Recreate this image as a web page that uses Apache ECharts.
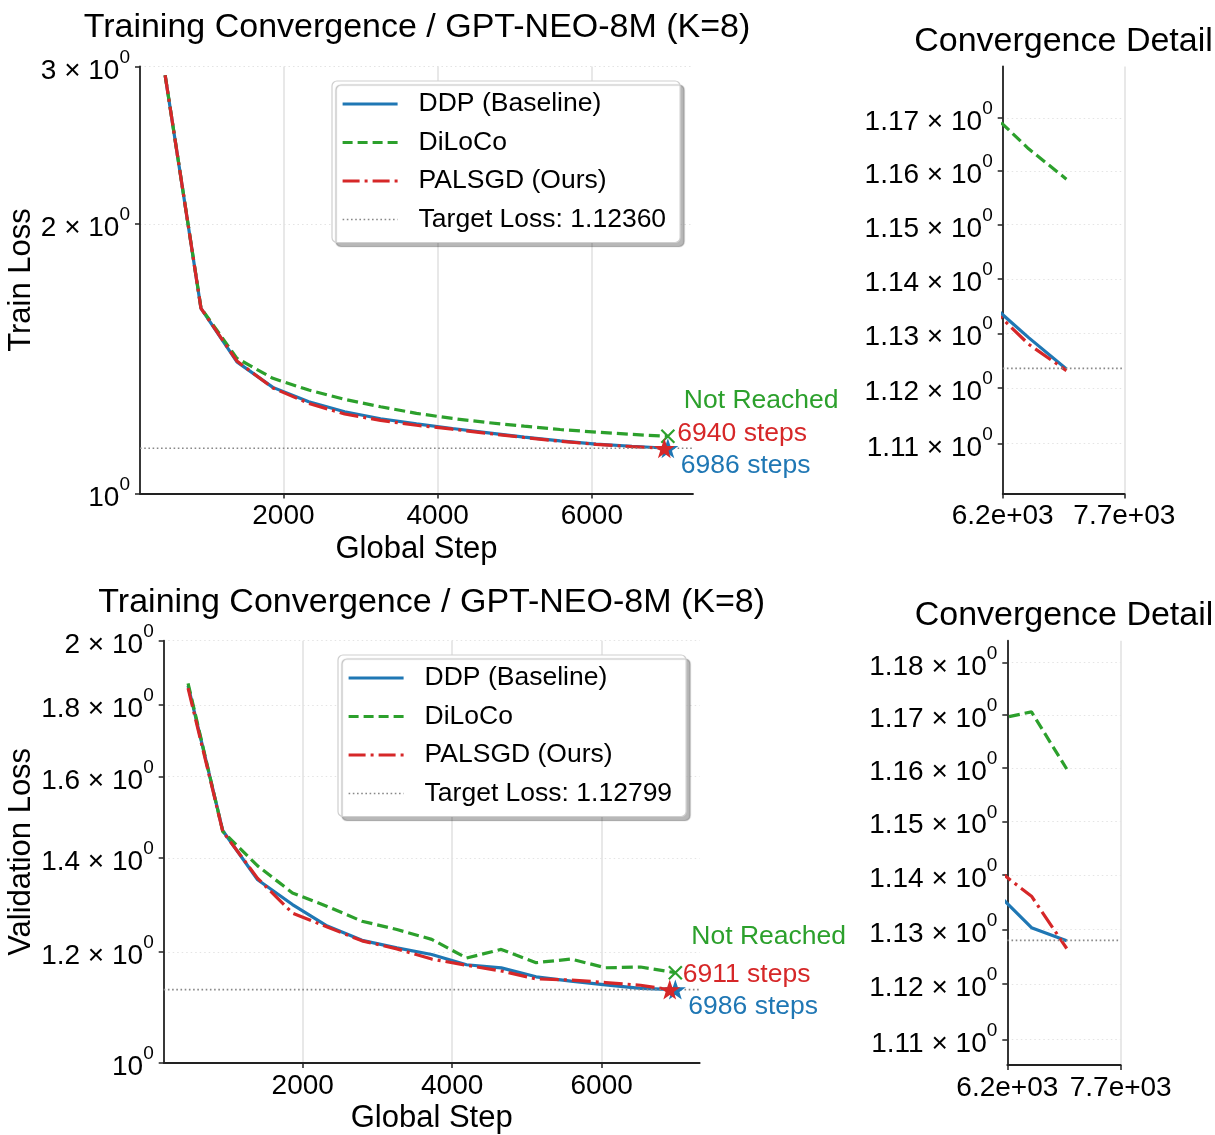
<!DOCTYPE html>
<html><head><meta charset="utf-8">
<script src="https://cdn.jsdelivr.net/npm/echarts@6/dist/echarts.min.js"></script>
<style>html,body{margin:0;padding:0;background:#fff}#c{width:1215px;height:1135px}</style>
</head><body><div id="c"></div>
<script>
// ---------------- data ----------------
const steps = [466, 931, 1397, 1863, 2329, 2794, 3260, 3726, 4192, 4657, 5123, 5589, 6054, 6520, 6986];

const ddpTrain    = [2.934, 1.610, 1.403, 1.314, 1.266, 1.234, 1.212, 1.196, 1.182, 1.169, 1.156, 1.145, 1.1353, 1.1292, 1.1235];
const dilocoTrain = [2.934, 1.612, 1.416, 1.345, 1.305, 1.274, 1.250, 1.229, 1.213, 1.200, 1.189, 1.179, 1.1710, 1.1642, 1.1585];
const palsgdTrain = [2.934, 1.610, 1.406, 1.312, 1.261, 1.227, 1.207, 1.192, 1.180, 1.167, 1.155, 1.144, 1.1347, 1.1280, 1.1232];

const ddpVal    = [1.858, 1.464, 1.351, 1.297, 1.252, 1.223, 1.208, 1.195, 1.175, 1.169, 1.152, 1.144, 1.1368, 1.1303, 1.1279];
const dilocoVal = [1.865, 1.462, 1.382, 1.322, 1.293, 1.262, 1.245, 1.225, 1.188, 1.205, 1.179, 1.186, 1.1692, 1.1706, 1.1598];
const palsgdVal = [1.850, 1.462, 1.354, 1.279, 1.250, 1.222, 1.206, 1.186, 1.174, 1.163, 1.148, 1.146, 1.1411, 1.1361, 1.1265];

const targetTrain = 1.12360;
const targetVal = 1.12799;
const reachDdpTrain = 6986, reachPalsgdTrain = 6940;
const reachDdpVal = 6986, reachPalsgdVal = 6911;

const xTicksMain = [2000, 4000, 6000];
const yTicksTrain = [1, 2, 3];
const yTicksVal = [1, 1.2, 1.4, 1.6, 1.8, 2];
const xTicksDetail = [6200, 7700];
const yTicksTrainDetail = [1.11, 1.12, 1.13, 1.14, 1.15, 1.16, 1.17];
const yTicksValDetail = [1.11, 1.12, 1.13, 1.14, 1.15, 1.16, 1.17, 1.18];
const yRangeTrain = [1, 3];
const yRangeVal = [1, 2];
const yRangeTrainDetail = [1.1011, 1.1798];
const yRangeValDetail = [1.1054, 1.1842];

const names = ['DDP (Baseline)', 'DiLoCo', 'PALSGD (Ours)'];
const titleMain = 'Training Convergence / GPT-NEO-8M (K=8)';
const titleDetail = 'Convergence Detail';

// ---------------- style ----------------
const FONT = 'Liberation Sans, Arial, Helvetica, sans-serif';
const BLUE = '#1f77b4', GREEN = '#2ca02c', RED = '#d62728';
const AX = '#222';
const margin = 0.05;
const xMin = steps[0] - margin * (steps[steps.length - 1] - steps[0]);
const xMax = steps[steps.length - 1] + margin * (steps[steps.length - 1] - steps[0]);

const grids = [
  {left: 140, top: 66.5, width: 553, height: 427},
  {left: 1002.7, top: 66.5, width: 121.6, height: 427},
  {left: 163.7, top: 640.7, width: 536, height: 425.3},
  {left: 1007.3, top: 640.7, width: 113.4, height: 424.3}
];

const rich = {
  b: {fontSize: 28, fontFamily: FONT, color: '#000', padding: [9, 0, 0, 0]},
  s: {fontSize: 19, fontFamily: FONT, color: '#000', verticalAlign: 'top'}
};
function logLabel(v) {
  const m = parseFloat(v.toFixed(3));
  if (Math.abs(m - 1) < 1e-9) return '{b|10}{s|0}';
  return '{b|' + m + ' × 10}{s|0}';
}
function expLabel(v) {
  const e = Math.floor(Math.log10(Math.abs(v)));
  const mant = (v / Math.pow(10, e)).toFixed(1);
  const es = (e < 0 ? '-' : '+') + String(Math.abs(e)).padStart(2, '0');
  return mant + 'e' + es;
}

function xAxis(gi, min, max, ticks, fmt, name) {
  return {
    type: 'value', gridIndex: gi, min: min, max: max,
    name: name || '', nameLocation: 'middle', nameGap: 40,
    nameTextStyle: {fontSize: 31, fontFamily: FONT, color: '#000'},
    axisLine: {show: true, lineStyle: {color: AX, width: 1.8}},
    axisTick: {show: true, length: 5, customValues: ticks, lineStyle: {color: AX, width: 1.5}},
    axisLabel: {customValues: ticks, formatter: fmt, fontSize: 28, fontFamily: FONT, color: '#000', margin: 9},
    splitLine: {show: true, lineStyle: {color: '#e3e3e3', width: 1.6}}
  };
}
function yAxis(gi, range, ticks, name, gap) {
  return {
    type: 'log', logBase: 10, gridIndex: gi, min: range[0], max: range[1],
    name: name || '', nameLocation: 'middle', nameGap: gap || 0,
    nameTextStyle: {fontSize: 31, fontFamily: FONT, color: '#000'},
    axisLine: {show: true, lineStyle: {color: AX, width: 1.8}},
    axisTick: {show: true, length: 5, customValues: ticks, lineStyle: {color: AX, width: 1.5}},
    axisLabel: {customValues: ticks, formatter: logLabel, rich: rich, margin: 10},
    splitLine: {show: true, lineStyle: {color: '#e4e4e4', width: 1.2, type: [1.5, 3]}}
  };
}

function lineSeries(name, xs, ys, color, type, gi) {
  return {
    name: name, type: 'line', xAxisIndex: gi, yAxisIndex: gi,
    data: xs.map((x, i) => [x, ys[i]]),
    symbol: 'none', showSymbol: false, clip: true, silent: true,
    lineStyle: {color: color, width: 3.2, type: type},
    itemStyle: {color: color}, z: 3
  };
}
function targetSeries(name, value, x0, x1, gi) {
  return {
    name: name, type: 'line', xAxisIndex: gi, yAxisIndex: gi,
    data: [[x0, value], [x1, value]],
    symbol: 'none', showSymbol: false, silent: true,
    lineStyle: {color: '#888', width: 1.6, type: [1.6, 2.6]},
    itemStyle: {color: '#888'},
    z: 4
  };
}
const STAR = 'path://M50,0 L61.8,35.1 L98.1,35.1 L68.8,56.8 L79.4,91.2 L50,70 L20.6,91.2 L31.2,56.8 L1.9,35.1 L38.2,35.1 Z';
const CROSS = 'path://M0,0L10,10M10,0L0,10';
function marker(pt, symbol, size, color, text, offset, gi, stroke) {
  return {
    type: 'scatter', xAxisIndex: gi, yAxisIndex: gi, silent: true, z: 6,
    data: [pt], symbol: symbol, symbolSize: size,
    itemStyle: stroke ? {color: 'rgba(0,0,0,0)', borderColor: color, borderWidth: 2.2, opacity: 1} : {color: color, opacity: 1},
    label: {show: true, position: 'inside', align: 'left', verticalAlign: 'middle', offset: offset,
      formatter: text, color: color, opacity: 1, fontSize: 26.5, fontFamily: FONT, textBorderWidth: 0}
  };
}

function panelSeries(gi, ddp, dil, pal, target, targetName, x0, x1, reachDdp, reachPal, annotate) {
  const s = [
    lineSeries(names[0], steps, ddp, BLUE, 'solid', gi),
    lineSeries(names[1], steps, dil, GREEN, [11, 5], gi),
    lineSeries(names[2], steps, pal, RED, [19, 5, 3, 5], gi),
    targetSeries(targetName, target, x0, x1, gi)
  ];
  if (annotate) {
    s.push(marker([steps[steps.length - 1], dil[dil.length - 1]], CROSS, 13, GREEN, 'Not Reached', [16, -36], gi, true));
    s.push(marker([reachDdp, target], STAR, [21, 20], BLUE, reachDdp + ' steps', [13, 17], gi, false));
    s.push(marker([reachPal, target], STAR, [21, 20], RED, reachPal + ' steps', [13, -15], gi, false));
  }
  return s;
}

const tnameT = 'Target Loss: ' + targetTrain.toFixed(5);
const tnameV = 'Target Loss: ' + targetVal.toFixed(5);

function legend(left, top, tname) {
  return {
    orient: 'vertical', left: left, top: top,
    data: [
      {name: names[0], lineStyle: {width: 3.2}},
      {name: names[1], lineStyle: {width: 3.2, type: [10, 5]}},
      {name: names[2], lineStyle: {width: 3.2, type: [17, 5, 3, 5]}},
      {name: tname, lineStyle: {width: 1.6, type: [1.6, 2.6]}}
    ],
    itemWidth: 55, itemHeight: 14, itemGap: 8.5,
    padding: [8, 14, 8, 9],
    itemStyle: {opacity: 0},
    backgroundColor: '#fff', borderColor: '#cfcfcf', borderWidth: 1.2, borderRadius: 5,
    shadowColor: 'rgba(0,0,0,0.28)', shadowBlur: 1, shadowOffsetX: 4, shadowOffsetY: 4,
    textStyle: {fontSize: 26.5, fontFamily: FONT, color: '#000', lineHeight: 30, padding: [0, 0, 0, 16]},
    selectedMode: false
  };
}

const titleStyle = {fontSize: 34, fontWeight: 'normal', fontFamily: FONT, color: '#000'};
const option = {
  backgroundColor: '#fff',
  animation: false,
  textStyle: {fontFamily: FONT},
  title: [
    {text: titleMain, left: 417, top: 11, textAlign: 'center', padding: 0, textStyle: titleStyle},
    {text: titleDetail, left: 1063.5, top: 25, textAlign: 'center', padding: 0, textStyle: titleStyle},
    {text: titleMain, left: 431.7, top: 586, textAlign: 'center', padding: 0, textStyle: titleStyle},
    {text: titleDetail, left: 1064, top: 599, textAlign: 'center', padding: 0, textStyle: titleStyle}
  ],
  legend: [legend(332, 81, tnameT), legend(338, 655, tnameV)],
  grid: grids.map(g => Object.assign({containLabel: false}, g)),
  xAxis: [
    xAxis(0, xMin, xMax, xTicksMain, v => String(v), 'Global Step'),
    xAxis(1, xTicksDetail[0], xTicksDetail[1], xTicksDetail, expLabel, ''),
    xAxis(2, xMin, xMax, xTicksMain, v => String(v), 'Global Step'),
    xAxis(3, xTicksDetail[0], xTicksDetail[1], xTicksDetail, expLabel, '')
  ],
  yAxis: [
    yAxis(0, yRangeTrain, yTicksTrain, 'Train Loss', 100),
    yAxis(1, yRangeTrainDetail, yTicksTrainDetail, '', 0),
    yAxis(2, yRangeVal, yTicksVal, 'Validation Loss', 124),
    yAxis(3, yRangeValDetail, yTicksValDetail, '', 0)
  ],
  series: [].concat(
    panelSeries(0, ddpTrain, dilocoTrain, palsgdTrain, targetTrain, tnameT, xMin, xMax, reachDdpTrain, reachPalsgdTrain, true),
    panelSeries(1, ddpTrain, dilocoTrain, palsgdTrain, targetTrain, tnameT, xTicksDetail[0], xTicksDetail[1], reachDdpTrain, reachPalsgdTrain, false),
    panelSeries(2, ddpVal, dilocoVal, palsgdVal, targetVal, tnameV, xMin, xMax, reachDdpVal, reachPalsgdVal, true),
    panelSeries(3, ddpVal, dilocoVal, palsgdVal, targetVal, tnameV, xTicksDetail[0], xTicksDetail[1], reachDdpVal, reachPalsgdVal, false)
  )
};

const chart = echarts.init(document.getElementById('c'), null, {renderer: 'canvas'});
chart.setOption(option);
</script>
</body></html>
